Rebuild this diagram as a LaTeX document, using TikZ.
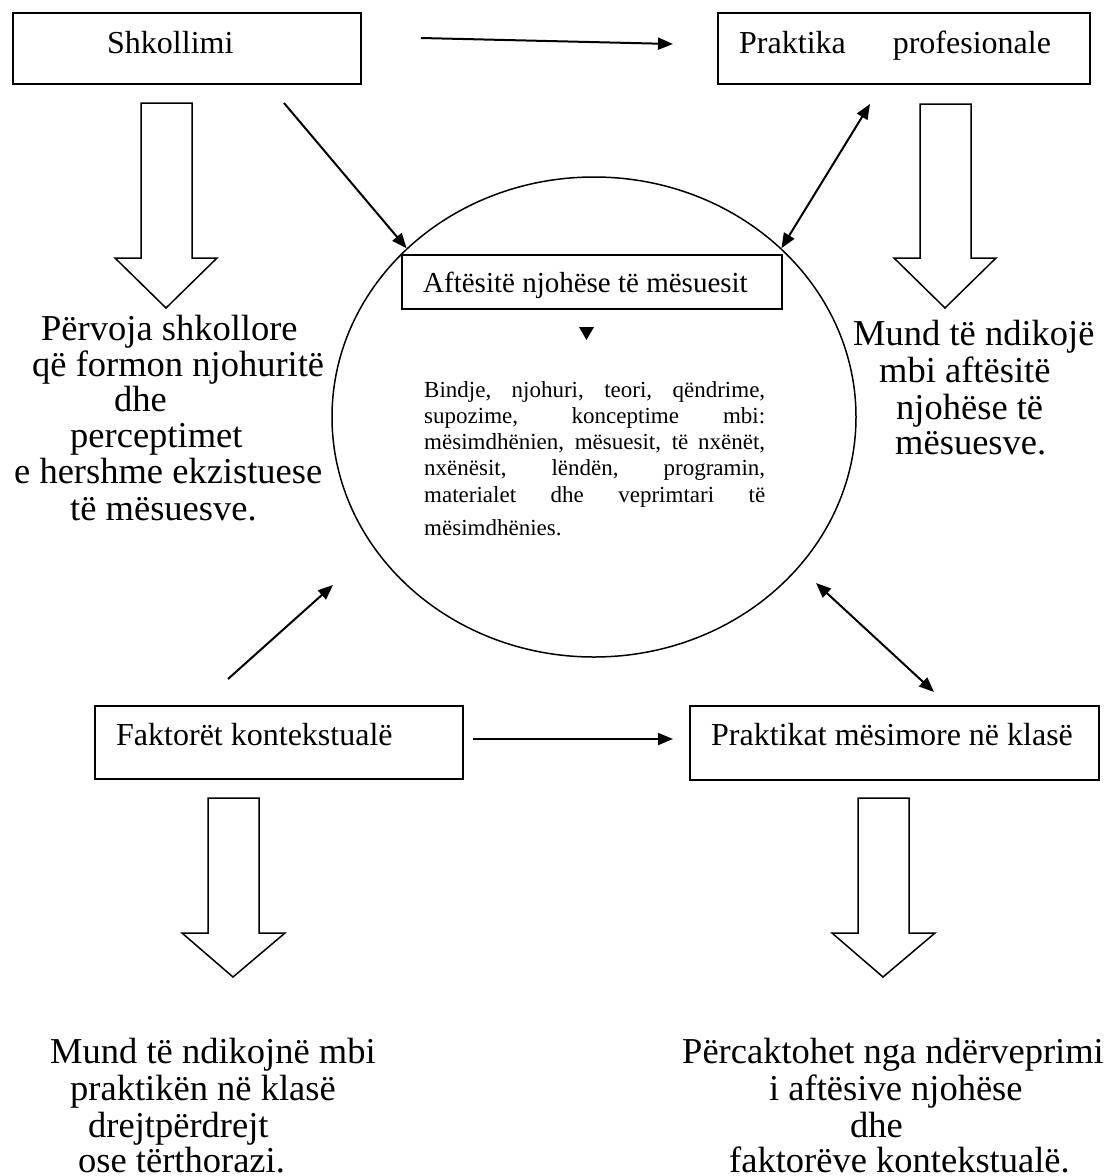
\documentclass[tikz,border=0pt]{standalone}
\usepackage{fontspec}
\setmainfont{Liberation Serif}
\usetikzlibrary{arrows.meta,shapes.geometric}
\begin{document}
\begin{tikzpicture}[x=1pt,y=-1pt,
  box/.style={draw, line width=1.5pt, inner sep=0pt},
  conn/.style={line width=2pt, -{Triangle[length=15pt,width=12pt]}},
  dconn/.style={line width=2pt, {Triangle[length=15pt,width=12pt]}-{Triangle[length=15pt,width=12pt]}},
  hollow/.style={draw, line width=1.5pt, line join=miter},
  lbl/.style={anchor=base west, inner sep=0pt, font=\fontsize{32}{37}\selectfont},
  side/.style={anchor=base west, inner sep=0pt, font=\fontsize{36.5}{41}\selectfont},
  body/.style={anchor=base west, inner sep=0pt, font=\fontsize{23}{26}\selectfont},
]
\useasboundingbox (0,0) rectangle (1110,1176);

% boxes
\node[box, minimum width=348pt, minimum height=71pt] (shk) at (187,48.5) {};
\node[box, minimum width=372pt, minimum height=71pt] (prof) at (904,48.5) {};
\node[box, minimum width=380pt, minimum height=54pt] (aft) at (592,282) {};
\node[box, minimum width=368pt, minimum height=73pt] (fak) at (279,742.5) {};
\node[box, minimum width=409pt, minimum height=74pt] (pmk) at (894.5,743) {};

% box texts
\node[lbl] (tshk) at (107,53) {Shkollimi};
\node[lbl] (tprof) at (739,53) {Praktika\hspace*{47pt}profesionale};
\node[lbl, font=\fontsize{29}{34}\selectfont] (taft) at (423,292) {Aftësitë njohëse të mësuesit};
\node[lbl] (tfak) at (116,745) {Faktorët kontekstualë};
\node[lbl] (tpmk) at (711,745) {Praktikat mësimore në klasë};

% ellipse
\node[draw, ellipse, line width=1.5pt, minimum width=524pt, minimum height=480pt, inner sep=0pt] (ell) at (594,417) {};

% small triangle
\fill (579,327) -- (594,327) -- (586.5,340) -- cycle;

% body text in ellipse
\node[body] (b1) at (424,397) {\makebox[341pt][s]{Bindje, njohuri, teori, qëndrime,}};
\node[body] (b2) at (424,423) {\makebox[341pt][s]{supozime, konceptime mbi:}};
\node[body] (b3) at (424,449) {\makebox[341pt][s]{mësimdhënien, mësuesit, të nxënët,}};
\node[body] (b4) at (424,475) {\makebox[341pt][s]{nxënësit, lëndën, programin,}};
\node[body] (b5) at (424,502) {\makebox[341pt][s]{materialet dhe veprimtari të}};
\node[body] (b6) at (424,535) {mësimdhënies.};

% side texts
\node[side] (l1) at (41,340) {Përvoja shkollore};
\node[side] (l2) at (32,376) {që formon njohuritë};
\node[side] (l3) at (114,411) {dhe};
\node[side] (l4) at (70,447) {perceptimet};
\node[side] (l5) at (14,483) {e hershme ekzistuese};
\node[side] (l6) at (70,520) {të mësuesve.};

\node[side] (r1) at (853,345) {Mund të ndikojë};
\node[side] (r2) at (879,382) {mbi aftësitë};
\node[side] (r3) at (896,419) {njohëse të};
\node[side] (r4) at (895,454) {mësuesve.};

\node[side] (bl1) at (50,1063) {Mund të ndikojnë mbi};
\node[side] (bl2) at (70,1100) {praktikën në klasë};
\node[side] (bl3) at (88,1137) {drejtpërdrejt};
\node[side] (bl4) at (78,1172) {ose tërthorazi.};

\node[side] (br1) at (682,1063) {Përcaktohet nga ndërveprimi};
\node[side] (br2) at (769,1100) {i aftësive njohëse};
\node[side] (br3) at (850,1137) {dhe};
\node[side] (br4) at (729,1172) {faktorëve kontekstualë.};

% hollow arrows
\draw[hollow] (141,103) -- (192,103) -- (192,258) -- (217,258) -- (166,308) -- (115,258) -- (141,258) -- cycle;
\draw[hollow] (920,104) -- (971,104) -- (971,258) -- (996,258) -- (945,308) -- (894,258) -- (920,258) -- cycle;
\draw[hollow] (208,798) -- (259,798) -- (259,933) -- (285,933) -- (233,977) -- (182,933) -- (208,933) -- cycle;
\draw[hollow] (858,798) -- (909,798) -- (909,933) -- (935,933) -- (883,977) -- (832,933) -- (858,933) -- cycle;

% connectors
\coordinate (c1s) at (421,38);
\coordinate (c1e) at (673,44);
\draw[conn] (c1s) -- (c1e);

\coordinate (c2s) at (284,103);
\draw[conn] (c2s) -- (ell.138);

\coordinate (c3s) at (870,104);
\draw[dconn] (c3s) -- (ell.42.5);

\coordinate (c4s) at (228,679);
\coordinate (c4e) at (333,585);
\draw[conn] (c4s) -- (c4e);

\coordinate (c5s) at (816,583);
\coordinate (c5e) at (934,692);
\draw[dconn] (c5s) -- (c5e);

\coordinate (c6s) at (473,739);
\coordinate (c6e) at (673,739);
\draw[conn] (c6s) -- (c6e);
\end{tikzpicture}
\end{document}
